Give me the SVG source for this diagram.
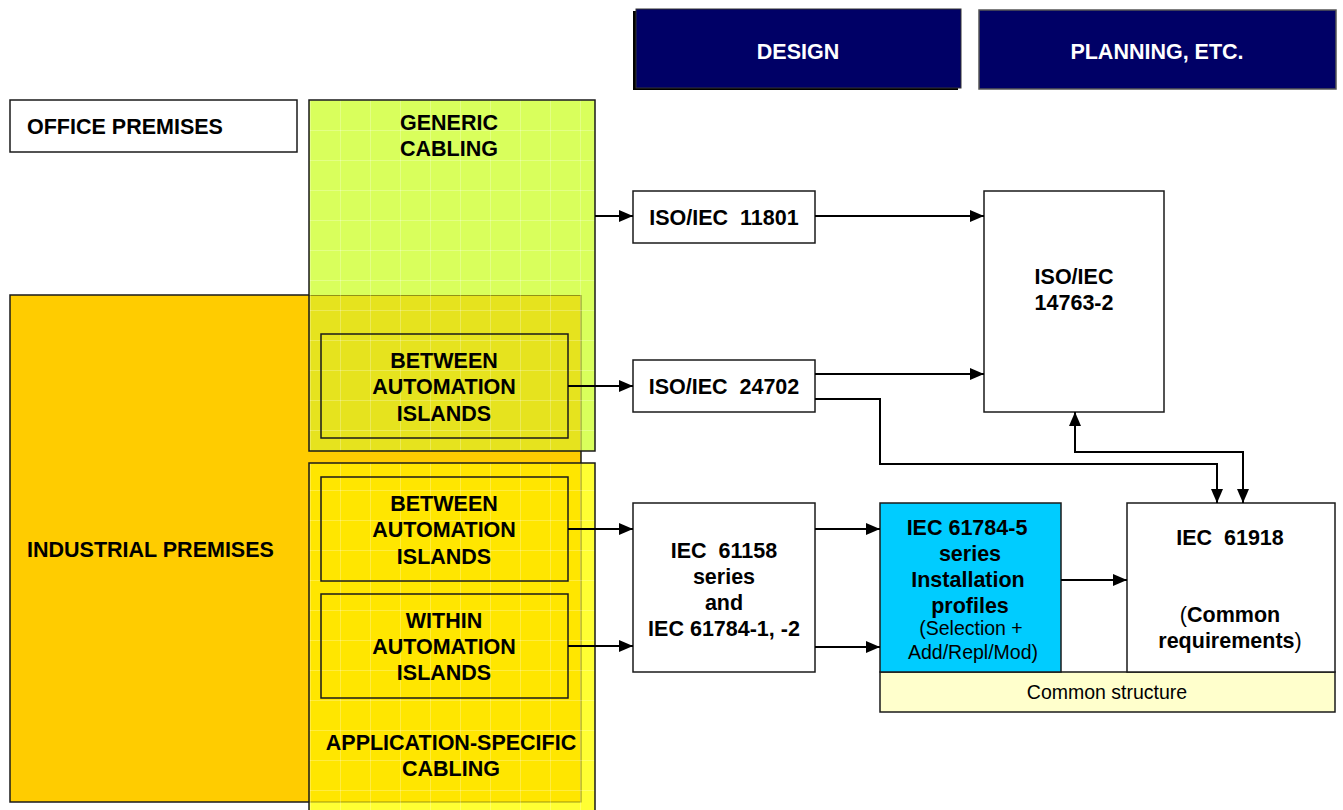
<svg xmlns="http://www.w3.org/2000/svg" width="1343" height="810" viewBox="0 0 1343 810">
<style>
.b{font-family:"Liberation Sans",Arial,sans-serif;font-weight:bold;font-size:21.5px;fill:#000;text-anchor:middle}
.bl{font-family:"Liberation Sans",Arial,sans-serif;font-weight:bold;font-size:21.5px;fill:#000}
.w{font-family:"Liberation Sans",Arial,sans-serif;font-weight:bold;font-size:21.5px;fill:#fff;text-anchor:middle}
.r{font-family:"Liberation Sans",Arial,sans-serif;font-weight:normal;font-size:19.5px;fill:#000;text-anchor:middle}
.n{font-weight:normal}
.bx{stroke:#1a1a1a;stroke-width:1.5}
.c{fill:none;stroke:#000;stroke-width:2}
.a{marker-end:url(#ah)}
</style>
<defs>
<marker id="ah" viewBox="0 0 14 12" refX="14" refY="6" markerWidth="14" markerHeight="12" markerUnits="userSpaceOnUse" orient="auto"><path d="M0,0 L14,6 L0,12 z" fill="#000"/></marker>
<pattern id="grid" patternUnits="userSpaceOnUse" x="310" y="100" width="30" height="30"><path d="M0,0.5 H30 M0.5,0 V30" stroke="#ffffff" stroke-opacity="0.25" stroke-width="1" fill="none"/></pattern>
</defs>

<g id="design">
<rect x="633" y="11" width="325" height="79" fill="#000"/>
<rect x="636" y="9" width="325" height="79" fill="#000066" stroke="#333" stroke-width="1"/>
<text class="w" x="798" y="58.5">DESIGN</text>
</g>
<g id="planning">
<rect x="979" y="10" width="357" height="79" fill="#000066" stroke="#555" stroke-width="1.5"/>
<text class="w" x="1157" y="58.5">PLANNING, ETC.</text>
</g>

<g id="office-premises">
<rect class="bx" x="10" y="100" width="287" height="52" fill="#fff"/>
<text class="bl" x="27" y="134">OFFICE PREMISES</text>
</g>

<g id="industrial-premises">
<rect class="bx" x="10" y="295" width="571" height="507" fill="#FFCC00"/>
<text class="bl" x="27" y="557">INDUSTRIAL PREMISES</text>
</g>

<g id="generic-cabling">
<rect x="309" y="100" width="286" height="351" fill="#D9FF5C"/>
<rect x="309" y="295" width="272" height="156" fill="#E6E31E"/>
<path d="M309,295.5 H581 V451" fill="none" stroke="#5a5a10" stroke-width="1.2" stroke-opacity="0.6"/>
<rect x="309" y="100" width="286" height="351" fill="url(#grid)"/>
<rect class="bx" x="309" y="100" width="286" height="351" fill="none"/>
<text class="b" x="449" y="130">GENERIC</text>
<text class="b" x="449" y="155.5">CABLING</text>
</g>

<g id="between-generic">
<rect class="bx" x="321" y="334" width="247" height="104" fill="none"/>
<text class="b" x="444" y="367.5">BETWEEN</text>
<text class="b" x="444" y="393.5">AUTOMATION</text>
<text class="b" x="444" y="420.5">ISLANDS</text>
</g>

<g id="application-specific-cabling">
<rect x="309" y="463" width="286" height="350" fill="#FFFF33"/>
<rect x="309" y="463" width="272" height="339" fill="#FFE600"/>
<path d="M309,802 H581 V463" fill="none" stroke="#5a5a10" stroke-width="1.2" stroke-opacity="0.6"/>
<rect x="309" y="463" width="286" height="350" fill="url(#grid)"/>
<rect class="bx" x="309" y="463" width="286" height="350" fill="none"/>
<text class="b" x="451" y="749.5">APPLICATION-SPECIFIC</text>
<text class="b" x="451" y="775.5">CABLING</text>
</g>

<g id="between-app">
<rect class="bx" x="321" y="477" width="247" height="104" fill="none"/>
<text class="b" x="444" y="510.5">BETWEEN</text>
<text class="b" x="444" y="536.5">AUTOMATION</text>
<text class="b" x="444" y="563.5">ISLANDS</text>
</g>

<g id="within-app">
<rect class="bx" x="321" y="594" width="247" height="104" fill="none"/>
<text class="b" x="444" y="627.5">WITHIN</text>
<text class="b" x="444" y="653.5">AUTOMATION</text>
<text class="b" x="444" y="679.5">ISLANDS</text>
</g>

<g id="iso11801">
<rect class="bx" x="633" y="191" width="182" height="52" fill="#fff"/>
<text class="b" x="724" y="224.5">ISO/IEC&#160; 11801</text>
</g>

<g id="iso24702">
<rect class="bx" x="633" y="360" width="182" height="52" fill="#fff"/>
<text class="b" x="724" y="393.5">ISO/IEC&#160; 24702</text>
</g>

<g id="iso14763">
<rect class="bx" x="984" y="191" width="180" height="221" fill="#fff"/>
<text class="b" x="1074" y="283.5">ISO/IEC</text>
<text class="b" x="1074" y="309.5">14763-2</text>
</g>

<g id="iec61158">
<rect class="bx" x="633" y="503" width="182" height="169" fill="#fff"/>
<text class="b" x="724" y="557.5">IEC&#160; 61158</text>
<text class="b" x="724" y="583.5">series</text>
<text class="b" x="724" y="609.5">and</text>
<text class="b" x="724" y="635.5">IEC 61784-1, -2</text>
</g>

<g id="common-structure">
<rect class="bx" x="880" y="672" width="455" height="40" fill="#FFFFCC"/>
<text class="r" x="1107" y="699">Common structure</text>
</g>

<g id="iec61784-5">
<rect class="bx" x="880" y="503" width="181" height="169" fill="#00CCFF"/>
<text class="b" x="967" y="534.5">IEC 61784-5</text>
<text class="b" x="970" y="560.5">series</text>
<text class="b" x="968" y="586.5">Installation</text>
<text class="b" x="970" y="612.5">profiles</text>
<text class="r" x="971" y="635">(Selection +</text>
<text class="r" x="973" y="659">Add/Repl/Mod)</text>
</g>

<g id="iec61918">
<rect class="bx" x="1127" y="503" width="208" height="169" fill="#fff"/>
<text class="b" x="1230" y="544.5">IEC&#160; 61918</text>
<text class="b" x="1230" y="621.5"><tspan class="n">(</tspan>Common</text>
<text class="b" x="1230" y="647.5">requirements<tspan class="n">)</tspan></text>
</g>

<g id="connectors">
<path class="c a" d="M595,216 H633"/>
<path class="c a" d="M815,216 H984"/>
<path class="c a" d="M568,386 H633"/>
<path class="c a" d="M815,374 H984"/>
<path class="c a" d="M815,399 H880 V464 H1217 V503"/>
<path class="c a" d="M1243,452 H1075 V412"/>
<path class="c a" d="M1075,452 H1243 V503"/>
<path class="c a" d="M568,529 H633"/>
<path class="c a" d="M568,646 H633"/>
<path class="c a" d="M815,529 H880"/>
<path class="c a" d="M815,647 H880"/>
<path class="c a" d="M1061,580 H1127"/>
</g>
</svg>
